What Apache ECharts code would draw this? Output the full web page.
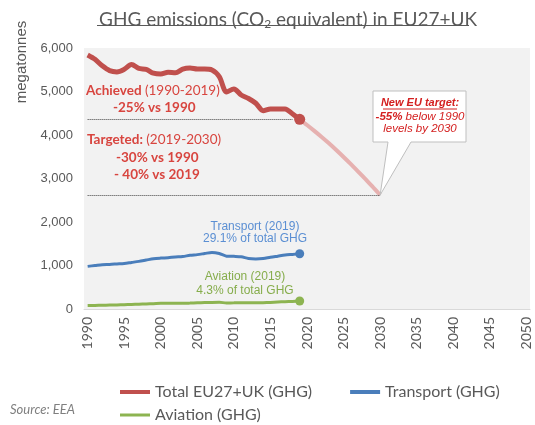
<!DOCTYPE html>
<html>
<head>
<meta charset="utf-8">
<script src="https://cdn.jsdelivr.net/npm/echarts@6/dist/echarts.min.js"></script>
<style>
  html, body { margin: 0; padding: 0; background: #fff; }
  #chart { width: 535px; height: 425px; }
</style>
</head>
<body>
<div id="chart"></div>
<script>
// categories 1990..2050
const years = [];
for (let y = 1990; y <= 2050; y++) years.push(String(y));

// megatonnes CO2e, 1990-2019
const totalGhg = [5840, 5740, 5590, 5480, 5450, 5510, 5620, 5530, 5510, 5420,
  5400, 5440, 5430, 5515, 5540, 5515, 5515, 5495, 5340, 4990,
  5060, 4920, 4840, 4730, 4560, 4600, 4600, 4600, 4490, 4360];
const transport = [980, 1000, 1020, 1025, 1035, 1045, 1070, 1095, 1125, 1155,
  1170, 1180, 1195, 1205, 1235, 1250, 1275, 1300, 1275, 1215,
  1210, 1200, 1160, 1150, 1160, 1190, 1215, 1240, 1255, 1270];
const aviation = [80, 82, 86, 90, 94, 98, 104, 110, 117, 123,
  130, 132, 130, 131, 136, 142, 147, 152, 153, 140,
  141, 144, 142, 143, 146, 152, 160, 168, 175, 183];
// target path 2019-2030
const targetPath = [4360, 4230, 4095, 3955, 3810, 3655, 3495, 3330, 3160, 2985, 2805, 2620];

const C_RED = '#c0504d', C_PINK = '#e6b1b0', C_BLUE = '#4a7ebb', C_GREEN = '#8db451';
const C_TXT_RED = '#d8453f', C_GRAY = '#595959', C_CALLOUT = '#d42020';

const lastIdx = totalGhg.length - 1;
const endDot = (size) => (v, p) => (p.dataIndex === lastIdx ? size : 0);
const targetData = years.map((y, i) => (i >= lastIdx && i - lastIdx < targetPath.length) ? targetPath[i - lastIdx] : null);

const chart = echarts.init(document.getElementById('chart'));

let option = {
  animation: false,
  title: {
    left: 94,
    top: 4,
    text: '{a|GHG emissions (CO}{s|2}{a| equivalent) in EU27+UK}',
    textStyle: {
      fontWeight: 'normal',
      rich: {
        a: { fontFamily: 'Lato', fontSize: 19, fontWeight: 'normal', color: C_GRAY, lineHeight: 22 },
        s: { fontFamily: 'Lato', fontSize: 12, fontWeight: 'normal', color: C_GRAY, lineHeight: 22, padding: [9, 0, 0, 0] },
      },
    },
  },
  grid: {
    left: 84, right: 5, top: 48, bottom: 116,
    show: true, backgroundColor: '#f2f2f2', borderWidth: 0,
  },
  legend: [
    {
      data: ['Total EU27+UK (GHG)', 'Transport (GHG)'],
      left: 120, top: 384, padding: 0,
      icon: 'rect', itemWidth: 30, itemHeight: 4, itemGap: 38,
      textStyle: { fontFamily: 'Lato', fontSize: 16, color: C_GRAY },
    },
    {
      data: ['Aviation (GHG)'],
      left: 120, top: 407, padding: 0,
      icon: 'rect', itemWidth: 30, itemHeight: 3,
      textStyle: { fontFamily: 'Lato', fontSize: 16, color: C_GRAY },
    },
  ],
  xAxis: {
    type: 'category',
    data: years,
    boundaryGap: true,
    axisLine: { lineStyle: { color: '#d9d9d9' } },
    axisTick: { show: false },
    axisLabel: {
      interval: 4, rotate: 90, margin: 8,
      fontFamily: 'Lato', fontSize: 14, color: C_GRAY,
    },
  },
  yAxis: {
    type: 'value',
    min: 0, max: 6000, interval: 1000,
    axisLine: { show: false },
    axisTick: { show: false },
    splitLine: { show: false },
    axisLabel: {
      margin: 11, fontFamily: 'Liberation Sans', fontSize: 13, color: C_GRAY,
      formatter: (v) => v.toLocaleString('en-US'),
    },
  },
  series: [
    {
      name: 'Target path',
      type: 'line',
      data: targetData,
      smooth: 0.3,
      symbol: 'none',
      lineStyle: { color: C_PINK, width: 4 },
      z: 1,
    },
    {
      name: 'Total EU27+UK (GHG)',
      type: 'line',
      data: totalGhg,
      smooth: 0.3,
      symbol: 'circle',
      symbolSize: endDot(11),
      itemStyle: { color: C_RED },
      lineStyle: { color: C_RED, width: 5 },
      z: 3,
      markLine: {
        silent: true,
        symbol: 'none',
        label: { show: false },
        lineStyle: { color: '#404040', type: 'dotted', width: 1 },
        data: [
          [{ xAxis: '1990', yAxis: totalGhg[lastIdx] }, { xAxis: '2018', yAxis: totalGhg[lastIdx] }],
          [{ xAxis: '1990', yAxis: targetPath[targetPath.length - 1] }, { xAxis: '2030', yAxis: targetPath[targetPath.length - 1] }],
        ],
      },
    },
    {
      name: 'Transport (GHG)',
      type: 'line',
      data: transport,
      smooth: 0.3,
      symbol: 'circle',
      symbolSize: endDot(9),
      itemStyle: { color: C_BLUE },
      lineStyle: { color: C_BLUE, width: 3 },
    },
    {
      name: 'Aviation (GHG)',
      type: 'line',
      data: aviation,
      smooth: 0.3,
      symbol: 'circle',
      symbolSize: endDot(9),
      itemStyle: { color: C_GREEN },
      lineStyle: { color: C_GREEN, width: 3 },
    },
  ],
};
chart.setOption(option);

// annotations
const tip = chart.convertToPixel({ xAxisIndex: 0, yAxisIndex: 0 }, ['2030', targetPath[targetPath.length - 1]]);
const redRich = {
  b: { fontFamily: 'Lato', fontSize: 13.5, fontWeight: 'bold', fill: C_TXT_RED },
  r: { fontFamily: 'Lato', fontSize: 13.5, fill: C_TXT_RED },
};
const note = (x, y, text) => ({
  type: 'text', x, y,
  style: { text, rich: redRich, fill: C_TXT_RED, verticalAlign: 'middle' },
});
const plain = (x, y, text, color, extra) => ({
  type: 'text', x, y,
  style: Object.assign({ text, fill: color, fontFamily: 'Liberation Sans', fontSize: 12, align: 'center', verticalAlign: 'middle' }, extra || {}),
});

chart.setOption({
  graphic: [
    { type: 'line', shape: { x1: 97, y1: 25.5, x2: 469, y2: 25.5 }, style: { stroke: C_GRAY, lineWidth: 1 } },
    {
      type: 'text', x: 22, y: 62, rotation: Math.PI / 2,
      style: { text: 'megatonnes', fill: C_GRAY, fontFamily: 'Liberation Sans', fontSize: 15, align: 'center', verticalAlign: 'middle' },
    },
    note(86, 91, '{b|Achieved} {r|(1990-2019)}'),
    note(113, 108, '{b|-25% vs 1990}'),
    note(87, 140, '{b|Targeted:} {r|(2019-2030)}'),
    note(116, 158, '{b|-30% vs 1990}'),
    note(114, 175, '{b|- 40% vs 2019}'),
    plain(255, 227, 'Transport (2019)', '#5b8fd3'),
    plain(255, 239, '29.1% of total GHG', '#5b8fd3'),
    plain(245, 277, 'Aviation (2019)', '#86ad4c'),
    plain(245, 291, '4.3% of total GHG', '#86ad4c'),
    {
      type: 'polygon',
      shape: { points: [[373, 91], [466, 91], [466, 142], [411, 142], [tip[0], tip[1]], [388, 142], [373, 142]] },
      style: { fill: '#fff', stroke: '#bfbfbf', lineWidth: 1 },
      z: 10,
    },
    Object.assign(plain(420, 103, 'New EU target:', C_CALLOUT, { fontStyle: 'italic', fontWeight: 'bold', fontSize: 11 }), { z: 11 }),
    { type: 'line', shape: { x1: 383, y1: 109, x2: 457, y2: 109 }, style: { stroke: C_CALLOUT, lineWidth: 1 }, z: 11 },
    {
      type: 'text', x: 420, y: 117, z: 11,
      style: {
        text: '{b|-55%}{r| below 1990}', align: 'center', verticalAlign: 'middle', fill: C_CALLOUT,
        rich: {
          b: { fontFamily: 'Liberation Sans', fontSize: 11.5, fontStyle: 'italic', fontWeight: 'bold', fill: C_CALLOUT },
          r: { fontFamily: 'Liberation Sans', fontSize: 11.5, fontStyle: 'italic', fill: C_CALLOUT },
        },
      },
    },
    Object.assign(plain(420, 129, 'levels by 2030', C_CALLOUT, { fontStyle: 'italic', fontSize: 11.5 }), { z: 11 }),
    {
      type: 'text', x: 10, y: 410,
      style: { text: 'Source: EEA', fill: '#7f7f7f', fontFamily: 'Lato', fontSize: 13, fontStyle: 'italic', verticalAlign: 'middle' },
    },
  ],
});
</script>
</body>
</html>
